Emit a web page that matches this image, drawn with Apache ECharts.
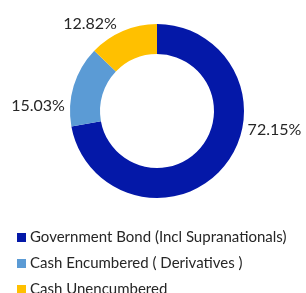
<!DOCTYPE html>
<html>
<head>
<meta charset="utf-8">
<script src="https://cdn.jsdelivr.net/npm/echarts@6/dist/echarts.min.js"></script>
<style>
  html, body { margin: 0; padding: 0; background: #fff; }
  #chart { width: 306px; height: 293px; }
</style>
</head>
<body>
<div id="chart"></div>
<script>
        // 数据
        const categories = ['Government Bond (Incl Supranationals)', 'Cash Encumbered ( Derivatives )', 'Cash Unencumbered'];
        const shares = [72.15, 15.03, 12.82];
        const colors = ['#0418A8', '#5B9BD5', '#FFC000'];
        // 标签微调
        const labelShift = [[15, -40], [1, 21], [1, -3]];

        const chartDom = document.getElementById('chart');
        const myChart = echarts.init(chartDom);

        const option = {
            color: colors,
            legend: {
                orient: 'vertical',
                left: 12,
                top: 225,
                height: 120,
                icon: 'rect',
                itemWidth: 9,
                itemHeight: 9,
                itemGap: 11,
                textStyle: {
                    fontFamily: 'Lato',
                    fontSize: 15,
                    color: '#262626',
                    padding: [0, 0, 0, -1]
                },
                data: categories
            },
            series: [{
                type: 'pie',
                center: [157, 111],
                radius: [57, 87],
                startAngle: 90,
                clockwise: true,
                avoidLabelOverlap: false,
                data: categories.map((name, i) => ({ name: name, value: shares[i] })),
                label: {
                    show: true,
                    position: 'outside',
                    formatter: p => p.value.toFixed(2) + '%',
                    fontFamily: 'Lato',
                    fontSize: 16,
                    color: '#262626'
                },
                labelLine: {
                    show: false,
                    length: 5,
                    length2: 0
                },
                labelLayout: function (params) {
                    const s = labelShift[params.dataIndex];
                    return { dx: s[0], dy: s[1] };
                },
                emphasis: { disabled: true }
            }]
        };

        myChart.setOption(option);

        window.addEventListener('resize', () => {
            myChart.resize();
        });
</script>
</body>
</html>
